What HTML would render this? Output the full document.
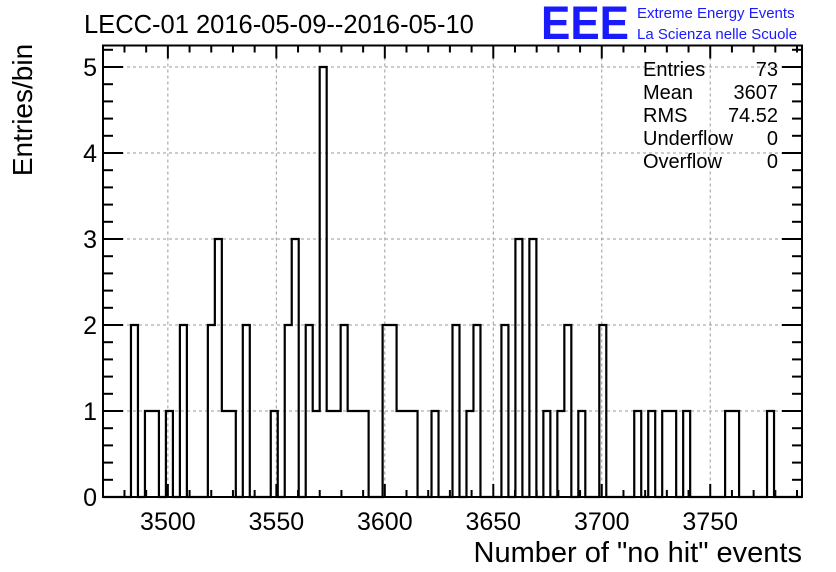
<!DOCTYPE html>
<html><head><meta charset="utf-8"><style>
html,body{margin:0;padding:0;background:#fff;}
svg{display:block;font-family:"Liberation Sans",sans-serif;}
</style></head><body>
<svg id="chart" width="836" height="572" viewBox="0 0 836 572">
<text x="84" y="33" font-size="25.5" fill="#000">LECC-01 2016-05-09--2016-05-10</text>
<g>
<text x="541" y="39" font-size="47" font-weight="bold" fill="#1a1aff" textLength="88" lengthAdjust="spacingAndGlyphs">EEE</text>
<text x="637" y="18" font-size="15" fill="#1a1aff">Extreme Energy Events</text>
<text x="637" y="39" font-size="15" fill="#1a1aff">La Scienza nelle Scuole</text>
</g>
<g id="grid"></g>
<g id="bars"></g>
<g id="axes"></g>
<text transform="translate(32,110) rotate(-90)" text-anchor="middle" font-size="28">Entries/bin</text>
<text x="802" y="562" text-anchor="end" font-size="29">Number of "no hit" events</text>
<g font-size="20">
<text x="643" y="76">Entries</text><text x="778" y="76" text-anchor="end">73</text>
<text x="643" y="99">Mean</text><text x="778" y="99" text-anchor="end">3607</text>
<text x="643" y="122">RMS</text><text x="778" y="122" text-anchor="end">74.52</text>
<text x="643" y="145">Underflow</text><text x="778" y="145" text-anchor="end">0</text>
<text x="643" y="168">Overflow</text><text x="778" y="168" text-anchor="end">0</text>
</g>
</svg>
<script>
const xRange = [3470.1, 3792.3];
const nBins = 100;
const binIndex = [4,6,7,9,11,15,16,17,18,20,24,26,27,29,30,31,32,33,34,35,36,37,40,41,42,43,44,47,50,52,53,57,59,61,63,65,66,68,71,76,78,80,81,83,89,90,95];
const binCount = [2,1,1,1,2,2,3,1,1,2,1,2,3,2,1,5,1,1,2,1,1,1,2,2,1,1,1,1,2,1,2,2,3,3,1,1,2,1,2,1,1,1,1,1,1,1,1];
const xTicks = [3500,3550,3600,3650,3700,3750];
const yTicks = [0,1,2,3,4,5];
const yMax = 5.25;

const L=103,R=802,B=497,T=B-yMax*86;
const sx=v=>L+(v-xRange[0])/(xRange[1]-xRange[0])*(R-L);
const sy=v=>B-v/yMax*(B-T);
const NS="http://www.w3.org/2000/svg";
function mk(tag,attrs,parent){const e=document.createElementNS(NS,tag);for(const k in attrs)e.setAttribute(k,attrs[k]);parent.appendChild(e);return e;}
const grid=document.getElementById('grid'),bars=document.getElementById('bars'),axes=document.getElementById('axes');
xTicks.forEach(v=>{const l=mk('line',{x1:sx(v),x2:sx(v),y1:T,y2:B,stroke:'#999','stroke-dasharray':'3,3','stroke-width':1},grid);

});
yTicks.forEach(v=>{const l=mk('line',{x1:L,x2:R,y1:sy(v),y2:sy(v),stroke:'#999','stroke-dasharray':'3,3','stroke-width':1},grid);

});
const counts=new Array(nBins).fill(0);
binIndex.forEach((b,i)=>counts[b]=binCount[i]);
const bw=(xRange[1]-xRange[0])/nBins;
let d=`M${sx(xRange[0])},${sy(0)}`;
for(let i=0;i<nBins;i++){const x0=sx(xRange[0]+i*bw),x1=sx(xRange[0]+(i+1)*bw),y=sy(counts[i]);d+=` L${x0},${y} L${x1},${y}`;}
d+=` L${sx(xRange[1])},${sy(0)}`;
const p=mk('path',{d:d,fill:'none',stroke:'#000','stroke-width':2.2},bars);


const fr=mk('rect',{x:L,y:T,width:R-L,height:B-T,fill:'none',stroke:'#000','stroke-width':2},axes);


for(let v=3480;v<=3790;v+=10){const maj=v%50===0,len=maj?13:7;
mk('line',{x1:sx(v),x2:sx(v),y1:B,y2:B-len,stroke:'#000','stroke-width':2},axes);
mk('line',{x1:sx(v),x2:sx(v),y1:T,y2:T+len,stroke:'#000','stroke-width':2},axes);}
xTicks.forEach(v=>{const t=mk('text',{x:sx(v),y:530,'text-anchor':'middle','font-size':25},axes);t.textContent=v;

});
for(let k=0;k<=26;k++){const v=k*0.2;if(v>yMax)break;const maj=k%5===0,len=maj?20:10;
mk('line',{x1:L,x2:L+len,y1:sy(v),y2:sy(v),stroke:'#000','stroke-width':2},axes);
mk('line',{x1:R,x2:R-len,y1:sy(v),y2:sy(v),stroke:'#000','stroke-width':2},axes);}
yTicks.forEach(v=>{const t=mk('text',{x:97,y:sy(v)+9,'text-anchor':'end','font-size':25},axes);t.textContent=v;

});
</script>
</body></html>
